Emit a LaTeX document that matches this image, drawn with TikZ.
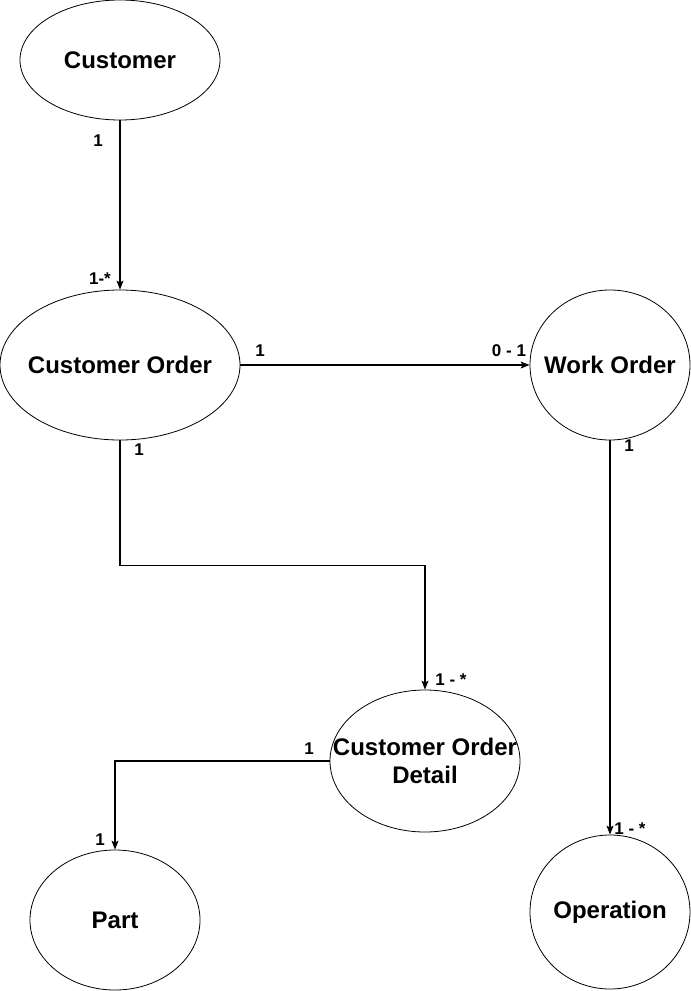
\documentclass[tikz,border=0pt]{standalone}
\usepackage{fontspec}
\setmainfont{Liberation Sans}
\usetikzlibrary{shapes.geometric, arrows.meta}

\tikzset{
  entity/.style={draw, ellipse, line width=0.8pt, inner sep=0pt},
  etext/.style={align=center, inner sep=0pt, font=\fontsize{24}{28}\selectfont\bfseries},
  card/.style={font=\fontsize{17}{19}\selectfont\bfseries, inner sep=0pt},
  rel/.style={line width=1.1pt, -{Stealth[length=9pt, width=7pt, inset=2pt]}}
}

\begin{document}
\begin{tikzpicture}[x=1pt, y=-1pt]
\useasboundingbox (0,0) rectangle (691,991);
\node[entity, minimum width=200pt, minimum height=120pt,
  label={[etext]center:Customer}] (cust) at (120,60) {};
\node[entity, minimum width=240pt, minimum height=150pt,
  label={[etext]center:Customer Order}] (co) at (120,365) {};
\node[entity, minimum width=160pt, minimum height=150pt,
  label={[etext]center:Work Order}] (wo) at (610,365) {};
\node[entity, minimum width=190pt, minimum height=142pt,
  label={[etext]center:Customer Order\\Detail}] (cod) at (425,761) {};
\node[entity, minimum width=170pt, minimum height=140pt,
  label={[etext]center:Part}] (part) at (115,920) {};
\node[entity, minimum width=160pt, minimum height=154pt,
  label={[etext]center:Operation}] (op) at (610,912) {};
% connectors
\draw[rel] (cust.south) -- (co.north);
\draw[rel] (co.east) -- (wo.west);
\draw[rel] (co.south) -- ++(0,125) -| (cod.north);
\draw[rel] (cod.west) -| (part.north);
\draw[rel] (wo.south) -- (op.north);
% cardinalities
\node[card] (c1) at (98,141) {1};
\node[card] (c2) at (100,279) {1-*};
\node[card] (c3) at (260,351) {1};
\node[card] (c4) at (509,351) {0 - 1};
\node[card] (c5) at (139,450) {1};
\node[card] (c6) at (451,680) {1 - *};
\node[card] (c7) at (629,446) {1};
\node[card] (c8) at (630,829) {1 - *};
\node[card] (c9) at (309,749) {1};
\node[card] (c10) at (100,840) {1};
\end{tikzpicture}
\end{document}
